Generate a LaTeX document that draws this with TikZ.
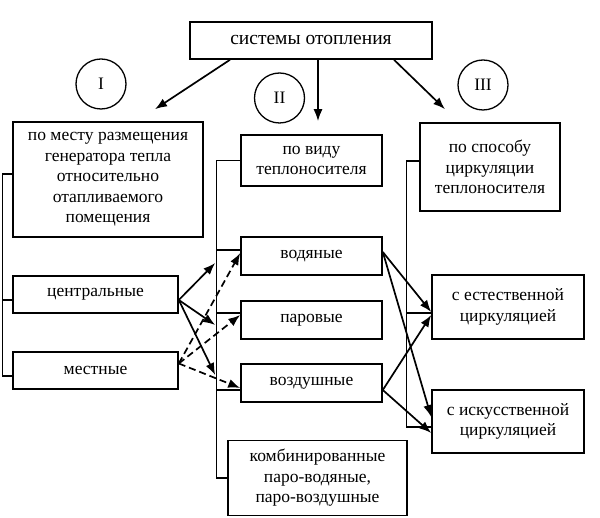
\documentclass[tikz,border=0pt]{standalone}
\usepackage{fontspec}
\setmainfont{Liberation Serif}
\usetikzlibrary{arrows.meta,positioning,calc}

\begin{document}
\begin{tikzpicture}[x=1pt,y=-1pt,
  every node/.style={font=\fontsize{17.5}{20.5}\selectfont},
  box/.style={draw=black, line width=1.6pt, align=center, inner sep=2pt},
  num/.style={circle, draw=black, line width=1.3pt, minimum size=50pt, inner sep=0pt},
  bracket/.style={draw=black, line width=1.3pt},
  arr/.style={line width=1.7pt, -{Latex[length=12pt,width=9pt]}},
  dasharr/.style={arr, dash pattern=on 7pt off 4pt}]
  \useasboundingbox (0,0) rectangle (600,518);
  \node (sys) [box, minimum width=242pt, minimum height=37pt, font=\fontsize{19.5}{23}\selectfont] at (311,40.5) {системы отопления};
  \node (n1) [num] at (101,84) {I};
  \node (n2) [num] at (279.5,98) {II};
  \node (n3) [num] at (483,85) {III};
  \node (place) [box, minimum width=190pt, minimum height=115pt] at (108,179.5) {по месту размещения\\генератора тепла\\относительно\\отапливаемого\\помещения};
  \node (kind) [box, minimum width=141pt, minimum height=51pt] at (311.5,160.5) {по виду\\теплоносителя};
  \node (circ) [box, minimum width=140pt, minimum height=88pt] at (490,167) {по способу\\циркуляции\\теплоносителя};
  \node (central) [box, minimum width=165pt, minimum height=37pt] at (95.5,294.5) {центральные};
  \node (local) [box, minimum width=165pt, minimum height=37pt] at (95.5,370.5) {местные};
  \node (water) [box, minimum width=141pt, minimum height=38pt] at (311.5,256) {водяные};
  \node (steam) [box, minimum width=141pt, minimum height=38pt] at (311.5,320) {паровые};
  \node (air) [box, minimum width=141pt, minimum height=38pt] at (311.5,383) {воздушные};
  \node (comb) [box, minimum width=179pt, minimum height=75pt] at (317.5,478) {комбинированные\\паро-водяные,\\паро-воздушные};
  \node (natural) [box, minimum width=152pt, minimum height=64pt] at (508,307) {с естественной\\циркуляцией};
  \node (forced) [box, minimum width=152pt, minimum height=63pt] at (508,421.5) {с искусственной\\циркуляцией};

  \draw [bracket] ([yshift=5.5pt]place.west) -- ++(-10,0) |- ([yshift=-5.5pt]local.west);
  \draw [bracket] ([yshift=-5.5pt]central.west) -- ++(-10,0);
  \draw [bracket] (kind.west) -- ++(-24,0) |- (comb.west);
  \draw [bracket] ([yshift=6pt]water.west) -- ++(-24,0);
  \draw [bracket] ([yshift=7pt]steam.west) -- ++(-24,0);
  \draw [bracket] ([yshift=-7pt]air.west) -- ++(-24,0);
  \draw [bracket] ([yshift=6pt]circ.west) -- ++(-13,0) |- ([yshift=-5.5pt]forced.west);
  \draw [bracket] ([yshift=-6pt]natural.west) -- ++(-25,0);

  \path [arr]
  ([xshift=-81pt]sys.south) edge ([xshift=47pt,yshift=12pt]place.north)
  ([xshift=7pt]sys.south) edge ([xshift=6.5pt,yshift=13pt]kind.north)
  ([xshift=83pt]sys.south) edge ([xshift=-45pt,yshift=13pt]circ.north);

  \path [arr]
  ([yshift=-5.5pt]central.east) edge ([xshift=-25pt,yshift=-7pt]water.west)
  ([yshift=-5.5pt]central.east) edge ([xshift=-25pt,yshift=-5pt]steam.west)
  ([yshift=-5.5pt]central.east) edge ([xshift=-25pt,yshift=8pt]air.west);

  \path [dasharr]
  ([yshift=7pt]local.east) edge ([yshift=3pt]water.west)
  ([yshift=7pt]local.east) edge ([yshift=5pt]steam.west)
  ([yshift=7pt]local.east) edge ([yshift=-5pt]air.west);

  \path [arr]
  ([yshift=4pt]water.east) edge ([yshift=-5pt]natural.west)
  ([yshift=4pt]water.east) edge ([yshift=4.5pt]forced.west)
  ([yshift=-7pt]air.east) edge ([yshift=-8pt]natural.west)
  ([yshift=-7pt]air.east) edge ([yshift=-11.5pt]forced.west);
\end{tikzpicture}
\end{document}
